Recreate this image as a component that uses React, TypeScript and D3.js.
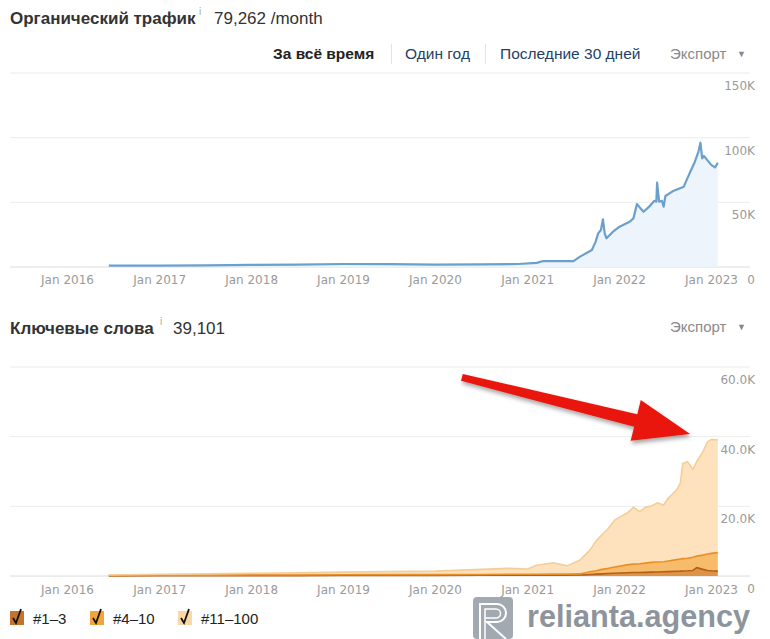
import * as d3 from 'd3';

// organic traffic, visits / month
const trafficDates = [
  '2016-06-13', '2017-01-01', '2017-07-02', '2018-01-01', '2018-07-02', '2019-01-01', '2019-07-02',
  '2020-01-01', '2020-07-01', '2020-11-24', '2021-02-06', '2021-03-04', '2021-05-08', '2021-07-02',
  '2021-07-28', '2021-09-13', '2021-09-28', '2021-10-08', '2021-10-19', '2021-10-27', '2021-11-03',
  '2021-11-10', '2021-12-06', '2022-01-01', '2022-02-10', '2022-02-25', '2022-03-11', '2022-03-22',
  '2022-04-06', '2022-05-01', '2022-05-19', '2022-05-27', '2022-05-30', '2022-06-07', '2022-06-18',
  '2022-06-25', '2022-07-02', '2022-08-04', '2022-09-13', '2022-09-24', '2022-10-12', '2022-10-27',
  '2022-11-10', '2022-11-18', '2022-11-25', '2022-12-02', '2022-12-13', '2023-01-01', '2023-01-15',
  '2023-01-26',
];
const trafficValues = [
  1000, 1100, 1300, 1600, 1900, 2300, 2200,
  1900, 2000, 2300, 3200, 4600, 4600, 4600,
  8000, 13100, 19600, 26000, 28600, 36900, 26000,
  22200, 27300, 31200, 35000, 37600, 48700, 46100,
  42700, 47100, 51200, 50500, 65200, 50500, 51200,
  46600, 54900, 59000, 62100, 67200, 75000, 81400,
  89100, 96100, 84000, 85800, 83200, 78800, 77000,
  80600,
];

// keywords by position
const kwDates = [
  '2016-06-13', '2017-01-01', '2017-07-02', '2018-01-01', '2018-07-02', '2019-01-01', '2019-07-02',
  '2020-01-01', '2020-07-01', '2020-10-19', '2021-01-01', '2021-02-06', '2021-04-13', '2021-06-07',
  '2021-07-28', '2021-09-06', '2021-10-01', '2021-10-23', '2021-11-18', '2021-12-13', '2022-01-30',
  '2022-02-25', '2022-03-22', '2022-04-13', '2022-05-08', '2022-05-30', '2022-06-25', '2022-07-13',
  '2022-08-15', '2022-08-30', '2022-09-09', '2022-09-28', '2022-10-19', '2022-11-03', '2022-11-28',
  '2022-12-16', '2023-01-01', '2023-01-26',
];
const kwTop3 = [
  50, 100, 100, 120, 120, 150, 150,
  150, 200, 200, 200, 200, 250, 250,
  300, 450, 550, 600, 700, 800, 950,
  1000, 1000, 1050, 1100, 1150, 1200, 1250,
  1350, 1400, 1450, 1500, 1600, 2400, 1900,
  1600, 1500, 1400,
];
const kwTop10 = [
  100, 100, 150, 180, 180, 200, 250,
  250, 250, 300, 300, 300, 300, 300,
  300, 750, 950, 1300, 1500, 1800, 2250,
  2400, 2500, 2650, 2800, 2850, 2900, 3050,
  3350, 3500, 3550, 3600, 3800, 3300, 4100,
  4700, 5000, 5300,
];
const kwTop100 = [
  150, 300, 350, 500, 600, 750, 900,
  1000, 1450, 1700, 1500, 2600, 3250, 2350,
  4000, 6300, 8700, 9900, 11500, 13500, 14800,
  16300, 15000, 16000, 16200, 17000, 16300, 18000,
  20000, 21700, 27300, 27700, 25200, 27100, 29700,
  32200, 32700, 32400,
];

const yearTicks = ['2016-01-01', '2017-01-01', '2018-01-01', '2019-01-01', '2020-01-01', '2021-01-01', '2022-01-01', '2023-01-01'];
const trafficTicks = [0, 50000, 100000, 150000];
const kwTicks = [0, 20000, 40000, 60000];
const seriesKeys = ['top3', 'top10', 'top100'];
const seriesNames = ['#1–3', '#4–10', '#11–100'];
const seriesFill = ['#de9447', '#f7bb6c', '#fde2bd'];
const seriesStroke = ['#b45f18', '#ea8f28', '#f6cd96'];
const legendBox = ['#c6742c', '#f2a53a', '#fad8a6'];

const parse = d3.timeParse('%Y-%m-%d');
const AX = '"DejaVu Sans", Verdana, sans-serif';
const TX = '"Liberation Sans", Arial, sans-serif';

export default function App() {
  const x = d3.scaleTime()
    .domain([parse('2016-01-01')!, parse('2023-01-01')!])
    .range([67.5, 711.5]);
  const gridX0 = 10;
  const gridX1 = 750;

  // top chart
  const yT = d3.scaleLinear().domain([0, 150000]).range([267, 73]);
  const traffic = trafficDates.map((d, i) => ({ date: parse(d)!, value: trafficValues[i] }));
  const tLine = d3.line<{ date: Date; value: number }>().x(d => x(d.date)).y(d => yT(d.value));
  const tArea = d3.area<{ date: Date; value: number }>().x(d => x(d.date)).y0(yT(0)).y1(d => yT(d.value));

  // bottom chart
  const yK = d3.scaleLinear().domain([0, 60000]).range([576, 367]);
  const kwRows = kwDates.map((d, i) => ({ date: parse(d)!, top3: kwTop3[i], top10: kwTop10[i], top100: kwTop100[i] }));
  const stacked = d3.stack<any>().keys(seriesKeys)(kwRows);
  const kArea = d3.area<any>().x(d => x(d.data.date)).y0(d => yK(d[0])).y1(d => yK(d[1]));
  const kLine = d3.line<any>().x(d => x(d.data.date)).y(d => yK(d[1]));

  // arrow annotation
  const a0 = [x(parse('2020-04-15')!), yK(57000)];
  const a1 = [x(parse('2022-10-08')!), yK(40800)];
  const dx = a1[0] - a0[0], dy = a1[1] - a0[1];
  const len = Math.hypot(dx, dy);
  const ux = dx / len, uy = dy / len, nx = -uy, ny = ux;
  const headLen = 56, headW = 21;
  const bx = a1[0] - ux * headLen, by = a1[1] - uy * headLen;
  const arrowPts = [
    [a0[0] + nx * 3.5, a0[1] + ny * 3.5],
    [bx + nx * 6.5, by + ny * 6.5],
    [bx + nx * headW, by + ny * headW],
    a1,
    [bx - nx * headW, by - ny * headW],
    [bx - nx * 6.5, by - ny * 6.5],
    [a0[0] - nx * 3.5, a0[1] - ny * 3.5],
  ].map(p => p.join(',')).join(' ');

  const fmtT = (v: number) => (v === 0 ? '0' : `${v / 1000}K`);
  const fmtK = (v: number) => (v === 0 ? '0' : `${(v / 1000).toFixed(1)}K`);

  return (
    <svg width={770} height={639} style={{ position: 'absolute', left: 0, top: 0, background: '#fff' }}>
      <defs>
        <filter id="shadow" x="-10%" y="-30%" width="130%" height="180%">
          <feDropShadow dx="1" dy="3" stdDeviation="2" floodColor="#000" floodOpacity="0.35" />
        </filter>
      </defs>

      {/* header */}
      <text x={10} y={24} fontFamily={TX} fontSize={17} fontWeight="bold" fill="#333">Органический трафик</text>
      <text x={199} y={15} fontFamily={TX} fontSize={10} fill="#aaa">i</text>
      <text x={214} y={24} fontFamily={TX} fontSize={17} fill="#333">79,262 /month</text>

      <text x={273} y={59} fontFamily={TX} fontSize={15.5} fontWeight="bold" fill="#222">За всё время</text>
      <line x1={391.5} x2={391.5} y1={44} y2={64} stroke="#e3e3e3" />
      <text x={405} y={59} fontFamily={TX} fontSize={15.5} fill="#1f4066">Один год</text>
      <line x1={485.5} x2={485.5} y1={44} y2={64} stroke="#e3e3e3" />
      <text x={500} y={59} fontFamily={TX} fontSize={15.5} fill="#1f4066">Последние 30 дней</text>
      <text x={670} y={59} fontFamily={TX} fontSize={15} fill="#8a8a8a">Экспорт</text>
      <text x={737} y={57} fontFamily={TX} fontSize={9} fill="#888">▼</text>

      {/* traffic chart */}
      {trafficTicks.map(t => (
        <g key={t}>
          <line x1={gridX0} x2={gridX1} y1={yT(t)} y2={yT(t)} stroke={t === 0 ? '#dcdcdc' : '#ececec'} />
          <text x={755} y={yT(t) + 17} textAnchor="end" fontFamily={AX} fontSize={12} fill="#9a9a9a">{fmtT(t)}</text>
        </g>
      ))}
      <path d={tArea(traffic)!} fill="#edf4fc" />
      <path d={tLine(traffic)!} fill="none" stroke="#6b9fcc" strokeWidth={2.2} strokeLinejoin="round" />
      {yearTicks.map(d => (
        <text key={d} x={x(parse(d)!)} y={284} textAnchor="middle" fontFamily={AX} fontSize={12} fill="#9a9a9a">
          {d3.timeFormat('Jan %Y')(parse(d)!)}
        </text>
      ))}

      {/* keywords header */}
      <text x={10} y={334} fontFamily={TX} fontSize={17} fontWeight="bold" fill="#333">Ключевые слова</text>
      <text x={160} y={325} fontFamily={TX} fontSize={10} fill="#aaa">i</text>
      <text x={173} y={334} fontFamily={TX} fontSize={17} fill="#333">39,101</text>
      <text x={670} y={332} fontFamily={TX} fontSize={15} fill="#8a8a8a">Экспорт</text>
      <text x={737} y={330} fontFamily={TX} fontSize={9} fill="#888">▼</text>

      {/* keywords chart */}
      {kwTicks.map(t => (
        <g key={t}>
          <line x1={gridX0} x2={gridX1} y1={yK(t)} y2={yK(t)} stroke={t === 0 ? '#dcdcdc' : '#ececec'} />
          <text x={755} y={yK(t) + 17} textAnchor="end" fontFamily={AX} fontSize={12} fill="#9a9a9a">{fmtK(t)}</text>
        </g>
      ))}
      {stacked.map((s, i) => (
        <path key={s.key} d={kArea(s)!} fill={seriesFill[i]} />
      ))}
      {stacked.map((s, i) => (
        <path key={s.key} d={kLine(s)!} fill="none" stroke={seriesStroke[i]} strokeWidth={1.6} strokeLinejoin="round" />
      ))}
      {yearTicks.map(d => (
        <text key={d} x={x(parse(d)!)} y={594} textAnchor="middle" fontFamily={AX} fontSize={12} fill="#9a9a9a">
          {d3.timeFormat('Jan %Y')(parse(d)!)}
        </text>
      ))}

      {/* red arrow */}
      <polygon points={arrowPts} fill="#e8160f" filter="url(#shadow)" />

      {/* legend */}
      {seriesNames.map((name, i) => {
        const lx = [10, 90, 178][i];
        return (
          <g key={name}>
            <rect x={lx} y={611} width={14} height={14} fill={legendBox[i]} />
            <path d={`M${lx + 3},${618} L${lx + 6},${623} L${lx + 11},${609}`} fill="none" stroke="#111" strokeWidth={1.8} />
            <text x={lx + 23} y={624} fontFamily={TX} fontSize={15} fill="#222">{name}</text>
          </g>
        );
      })}

      {/* watermark */}
      <g>
        <rect x={473} y={597} width={40} height={42} rx={4} fill="#a3a9b1" />
        <path d="M480,639 V604 H497 A9,9 0 0 1 497,622 H487 L506,639" fill="none" stroke="#fff" strokeWidth={2} />
        <path d="M485,639 V609 H496 A4.5,4.5 0 0 1 496,618 H485" fill="none" stroke="#fff" strokeWidth={1.5} />
        <text x={527} y={627} fontFamily={TX} fontSize={31} fontWeight="bold" fill="#8d949c" textLength={223} lengthAdjust="spacingAndGlyphs">relianta.agency</text>
      </g>
    </svg>
  );
}
